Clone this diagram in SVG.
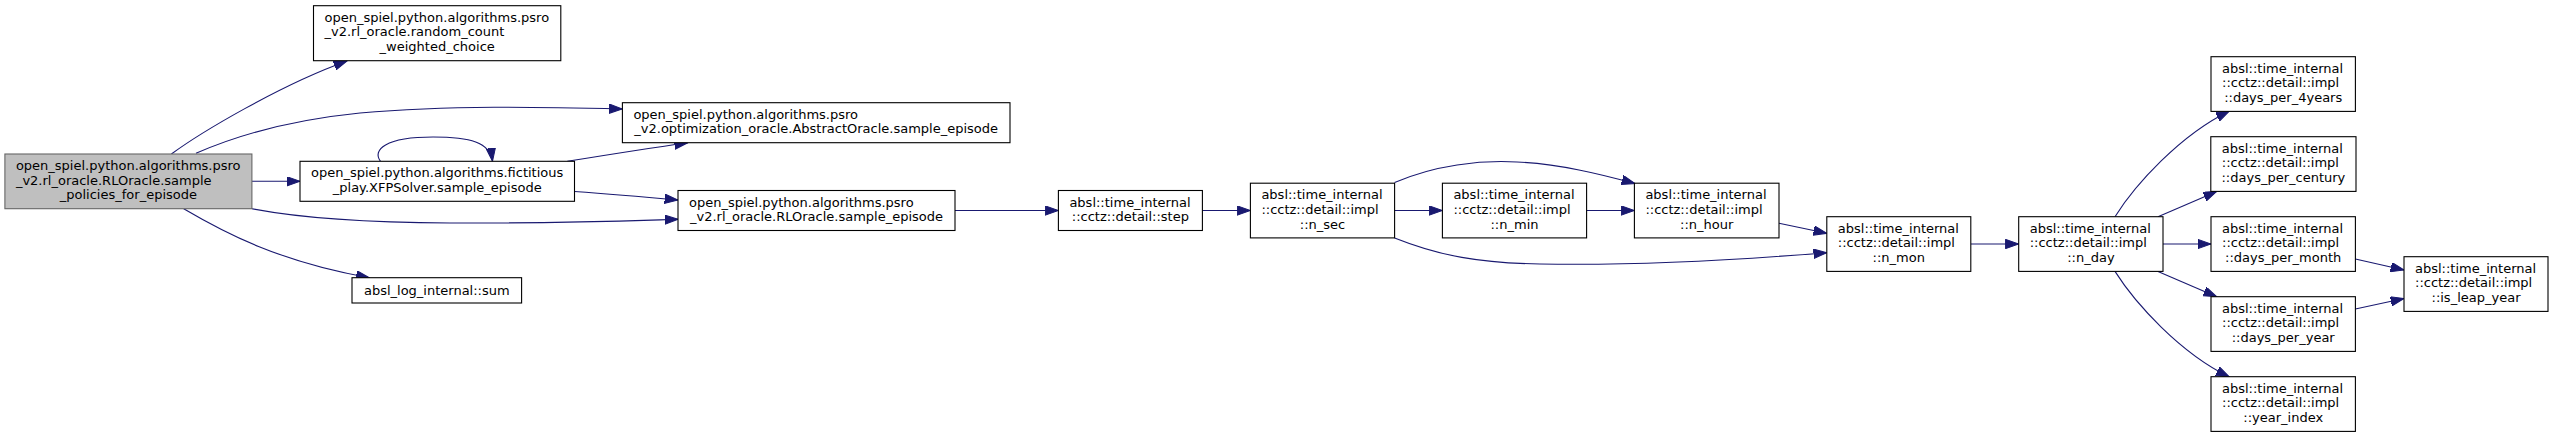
<svg xmlns="http://www.w3.org/2000/svg" width="2553" height="437" viewBox="0 0 2553 437">
<style>
.n rect{fill:#ffffff;stroke:#000000;stroke-width:1.1}
.n.root rect{fill:#bfbfbf;stroke:#666666}
.n text{font-family:"DejaVu Sans",sans-serif;font-size:13px;fill:#000000}
.m{text-anchor:middle}
.e path{fill:none;stroke:#191970;stroke-width:1.1}
</style>
<defs>
<marker id="ah" markerUnits="userSpaceOnUse" markerWidth="14" markerHeight="10" refX="13.3" refY="4.7" orient="auto">
<path d="M0,0 L13.3,4.7 L0,9.4 Z" fill="#191970" stroke="#191970" stroke-width="1"/>
</marker>
</defs>
<rect width="2553" height="437" fill="#ffffff"/>
<g id="edges" class="e">
<path marker-end="url(#ah)" d="M171.4,154 C200,133 280,85 347,61"/>
<path marker-end="url(#ah)" d="M196,153.3 C240,134 290,120 360,113 C450,105 540,107 622.4,109"/>
<path marker-end="url(#ah)" d="M252,181.3 L300,181.3"/>
<path marker-end="url(#ah)" d="M252,208.7 C300,218 360,222.5 450,223 C550,223.5 620,221 678,219.3"/>
<path marker-end="url(#ah)" d="M183.7,208.7 C225,233 280,262 369.4,277.7"/>
<path marker-end="url(#ah)" d="M380.5,161.3 C372,150 385,137 433,137 C470,137 490,142 492.5,161.3"/>
<path marker-end="url(#ah)" d="M567.3,161.3 C600,156 650,148 687.8,142.7"/>
<path marker-end="url(#ah)" d="M574.5,191.5 C610,194 645,197 678,200"/>
<path marker-end="url(#ah)" d="M955,210.5 L1058.4,210.5"/>
<path marker-end="url(#ah)" d="M1202.4,210.5 L1250.4,210.5"/>
<path marker-end="url(#ah)" d="M1394.6,210.5 L1442.4,210.5"/>
<path marker-end="url(#ah)" d="M1586.6,210.5 L1634.4,210.5"/>
<path marker-end="url(#ah)" d="M1394.6,182.5 C1435,165 1480,160 1517,162 C1560,164 1600,174 1635,183.5"/>
<path marker-end="url(#ah)" d="M1394.6,237.9 C1440,256 1480,263 1540,264 C1650,266 1750,259 1826.8,252.7"/>
<path marker-end="url(#ah)" d="M1779,223.3 L1826.8,233.3"/>
<path marker-end="url(#ah)" d="M1970.8,244 L2018.7,244"/>
<path marker-end="url(#ah)" d="M2115,216.7 C2135,185 2180,135 2229.5,111"/>
<path marker-end="url(#ah)" d="M2158,216.7 L2216.7,191.4"/>
<path marker-end="url(#ah)" d="M2163,244 L2211,244"/>
<path marker-end="url(#ah)" d="M2158,271.4 L2216.7,296.7"/>
<path marker-end="url(#ah)" d="M2115,271.4 C2135,303 2180,353 2229.5,377"/>
<path marker-end="url(#ah)" d="M2355.4,259 L2404,270"/>
<path marker-end="url(#ah)" d="M2355.4,309 L2404,298.5"/>
</g>
<g id="node_main" class="n root">
<rect x="4.9" y="154" width="247" height="54.7"/>
<text x="15.9" y="170">open_spiel.python.algorithms.psro</text>
<text x="15.9" y="184.7">_v2.rl_oracle.RLOracle.sample</text>
<text class="m" x="128.4" y="199.3">_policies_for_episode</text>
</g>
<g id="node_random_count" class="n">
<rect x="313.5" y="5.7" width="247.3" height="55"/>
<text x="324.5" y="21.7">open_spiel.python.algorithms.psro</text>
<text x="324.5" y="36.4">_v2.rl_oracle.random_count</text>
<text class="m" x="437.2" y="51">_weighted_choice</text>
</g>
<g id="node_abstract" class="n">
<rect x="622.4" y="102.7" width="387.6" height="40"/>
<text x="633.4" y="118.7">open_spiel.python.algorithms.psro</text>
<text class="m" x="816.2" y="133.4">_v2.optimization_oracle.AbstractOracle.sample_episode</text>
</g>
<g id="node_xfp" class="n">
<rect x="300" y="161.3" width="274.5" height="40"/>
<text x="311" y="177.3">open_spiel.python.algorithms.fictitious</text>
<text class="m" x="437.25" y="192">_play.XFPSolver.sample_episode</text>
</g>
<g id="node_rl_sample" class="n">
<rect x="678" y="190.5" width="277" height="40"/>
<text x="689" y="206.5">open_spiel.python.algorithms.psro</text>
<text class="m" x="816.5" y="221.2">_v2.rl_oracle.RLOracle.sample_episode</text>
</g>
<g id="node_sum" class="n">
<rect x="352" y="277.7" width="169.6" height="25.3"/>
<text class="m" x="436.8" y="295.3">absl_log_internal::sum</text>
</g>
<g id="node_step" class="n">
<rect x="1058.4" y="190.5" width="144" height="40"/>
<text x="1069.4" y="206.5">absl::time_internal</text>
<text class="m" x="1130.4" y="221.2">::cctz::detail::step</text>
</g>
<g id="node_n_sec" class="n">
<rect x="1250.4" y="183.2" width="144.2" height="54.7"/>
<text x="1261.4" y="199.2">absl::time_internal</text>
<text x="1261.4" y="213.9">::cctz::detail::impl</text>
<text class="m" x="1322.5" y="228.5">::n_sec</text>
</g>
<g id="node_n_min" class="n">
<rect x="1442.4" y="183.2" width="144.2" height="54.7"/>
<text x="1453.4" y="199.2">absl::time_internal</text>
<text x="1453.4" y="213.9">::cctz::detail::impl</text>
<text class="m" x="1514.5" y="228.5">::n_min</text>
</g>
<g id="node_n_hour" class="n">
<rect x="1634.4" y="183.2" width="144.6" height="54.7"/>
<text x="1645.4" y="199.2">absl::time_internal</text>
<text x="1645.4" y="213.9">::cctz::detail::impl</text>
<text class="m" x="1706.7" y="228.5">::n_hour</text>
</g>
<g id="node_n_mon" class="n">
<rect x="1826.8" y="216.7" width="144" height="54.7"/>
<text x="1837.8" y="232.7">absl::time_internal</text>
<text x="1837.8" y="247.4">::cctz::detail::impl</text>
<text class="m" x="1898.8" y="262">::n_mon</text>
</g>
<g id="node_n_day" class="n">
<rect x="2018.7" y="216.7" width="144.3" height="54.7"/>
<text x="2029.7" y="232.7">absl::time_internal</text>
<text x="2029.7" y="247.4">::cctz::detail::impl</text>
<text class="m" x="2090.9" y="262">::n_day</text>
</g>
<g id="node_days_per_4years" class="n">
<rect x="2211" y="56.7" width="144.4" height="54.7"/>
<text x="2222" y="72.7">absl::time_internal</text>
<text x="2222" y="87.4">::cctz::detail::impl</text>
<text class="m" x="2283.2" y="102">::days_per_4years</text>
</g>
<g id="node_days_per_century" class="n">
<rect x="2210.8" y="136.7" width="145.2" height="54.7"/>
<text x="2221.8" y="152.7">absl::time_internal</text>
<text x="2221.8" y="167.4">::cctz::detail::impl</text>
<text class="m" x="2283.4" y="182">::days_per_century</text>
</g>
<g id="node_days_per_month" class="n">
<rect x="2211" y="216.7" width="144.4" height="54.7"/>
<text x="2222" y="232.7">absl::time_internal</text>
<text x="2222" y="247.4">::cctz::detail::impl</text>
<text class="m" x="2283.2" y="262">::days_per_month</text>
</g>
<g id="node_days_per_year" class="n">
<rect x="2211" y="296.7" width="144.4" height="54.7"/>
<text x="2222" y="312.7">absl::time_internal</text>
<text x="2222" y="327.4">::cctz::detail::impl</text>
<text class="m" x="2283.2" y="342">::days_per_year</text>
</g>
<g id="node_year_index" class="n">
<rect x="2211" y="376.7" width="144.4" height="54.7"/>
<text x="2222" y="392.7">absl::time_internal</text>
<text x="2222" y="407.4">::cctz::detail::impl</text>
<text class="m" x="2283.2" y="422">::year_index</text>
</g>
<g id="node_is_leap_year" class="n">
<rect x="2404" y="256.7" width="144" height="54.7"/>
<text x="2415" y="272.7">absl::time_internal</text>
<text x="2415" y="287.4">::cctz::detail::impl</text>
<text class="m" x="2476" y="302">::is_leap_year</text>
</g>
</svg>
